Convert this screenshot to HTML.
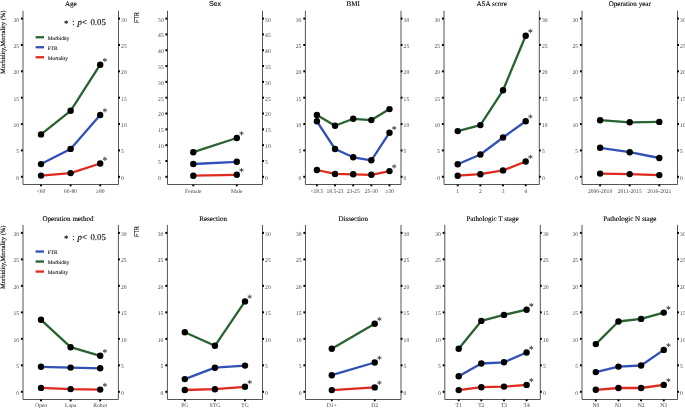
<!DOCTYPE html><html><head><meta charset="utf-8"><style>html,body{margin:0;padding:0;background:#fff;width:685px;height:408px;overflow:hidden}svg{display:block}</style></head><body>
<svg width="685" height="408" viewBox="0 0 685 408" text-rendering="geometricPrecision" style="will-change:transform">
<rect width="685" height="408" fill="#fff"/>
<path d="M23 10.7V184.5H118.5V10.7" fill="none" stroke="#555" stroke-width="1.0"/>
<rect x="20.9" y="175.8" width="1.9" height="2" fill="#000"/>
<rect x="118.2" y="175.8" width="1.8" height="2" fill="#000"/>
<text x="19" y="179.7" font-size="5.6" fill="#444" text-anchor="end" font-family='"Liberation Serif", serif'>0</text>
<text x="121.1" y="179.7" font-size="5.6" fill="#444" font-family='"Liberation Serif", serif'>0</text>
<rect x="20.9" y="149.43" width="1.9" height="2" fill="#000"/>
<rect x="118.2" y="149.43" width="1.8" height="2" fill="#000"/>
<text x="19" y="153.33" font-size="5.6" fill="#444" text-anchor="end" font-family='"Liberation Serif", serif'>5</text>
<text x="121.1" y="153.33" font-size="5.6" fill="#444" font-family='"Liberation Serif", serif'>5</text>
<rect x="20.9" y="123.07" width="1.9" height="2" fill="#000"/>
<rect x="118.2" y="123.07" width="1.8" height="2" fill="#000"/>
<text x="19" y="126.97" font-size="5.6" fill="#444" text-anchor="end" font-family='"Liberation Serif", serif'>10</text>
<text x="121.1" y="126.97" font-size="5.6" fill="#444" font-family='"Liberation Serif", serif'>10</text>
<rect x="20.9" y="96.7" width="1.9" height="2" fill="#000"/>
<rect x="118.2" y="96.7" width="1.8" height="2" fill="#000"/>
<text x="19" y="100.6" font-size="5.6" fill="#444" text-anchor="end" font-family='"Liberation Serif", serif'>15</text>
<text x="121.1" y="100.6" font-size="5.6" fill="#444" font-family='"Liberation Serif", serif'>15</text>
<rect x="20.9" y="70.33" width="1.9" height="2" fill="#000"/>
<rect x="118.2" y="70.33" width="1.8" height="2" fill="#000"/>
<text x="19" y="74.23" font-size="5.6" fill="#444" text-anchor="end" font-family='"Liberation Serif", serif'>20</text>
<text x="121.1" y="74.23" font-size="5.6" fill="#444" font-family='"Liberation Serif", serif'>20</text>
<rect x="20.9" y="43.97" width="1.9" height="2" fill="#000"/>
<rect x="118.2" y="43.97" width="1.8" height="2" fill="#000"/>
<text x="19" y="47.87" font-size="5.6" fill="#444" text-anchor="end" font-family='"Liberation Serif", serif'>25</text>
<text x="121.1" y="47.87" font-size="5.6" fill="#444" font-family='"Liberation Serif", serif'>25</text>
<rect x="20.9" y="17.6" width="1.9" height="2" fill="#000"/>
<rect x="118.2" y="17.6" width="1.8" height="2" fill="#000"/>
<text x="19" y="21.5" font-size="5.6" fill="#444" text-anchor="end" font-family='"Liberation Serif", serif'>30</text>
<text x="121.1" y="21.5" font-size="5.6" fill="#444" font-family='"Liberation Serif", serif'>30</text>
<rect x="40.05" y="184.5" width="1.9" height="1.8" fill="#000"/>
<text x="41" y="192.9" font-size="5.6" fill="#444" text-anchor="middle" font-family='"Liberation Serif", serif'>&lt;60</text>
<rect x="69.65" y="184.5" width="1.9" height="1.8" fill="#000"/>
<text x="70.6" y="192.9" font-size="5.6" fill="#444" text-anchor="middle" font-family='"Liberation Serif", serif'>60-80</text>
<rect x="99.25" y="184.5" width="1.9" height="1.8" fill="#000"/>
<text x="100.2" y="192.9" font-size="5.6" fill="#444" text-anchor="middle" font-family='"Liberation Serif", serif'>≥80</text>
<text x="70.75" y="6.4" font-size="7.05" fill="#000" stroke="#000" stroke-width="0.12" text-anchor="middle" font-family='"Liberation Serif", serif'>Age</text>
<polyline points="41,134.4 70.6,110.8 100.2,64.7" fill="none" stroke="#286330" stroke-width="2.3" stroke-linejoin="round"/>
<polyline points="41,164.1 70.6,148.9 100.2,115" fill="none" stroke="#3050b8" stroke-width="2.3" stroke-linejoin="round"/>
<polyline points="41,175.6 70.6,173.1 100.2,163.5" fill="none" stroke="#e12a1e" stroke-width="2.3" stroke-linejoin="round"/>
<circle cx="41" cy="134.4" r="3.2" fill="#000"/>
<circle cx="70.6" cy="110.8" r="3.2" fill="#000"/>
<circle cx="100.2" cy="64.7" r="3.2" fill="#000"/>
<circle cx="41" cy="164.1" r="3.2" fill="#000"/>
<circle cx="70.6" cy="148.9" r="3.2" fill="#000"/>
<circle cx="100.2" cy="115" r="3.2" fill="#000"/>
<circle cx="41" cy="175.6" r="3.2" fill="#000"/>
<circle cx="70.6" cy="173.1" r="3.2" fill="#000"/>
<circle cx="100.2" cy="163.5" r="3.2" fill="#000"/>
<path d="M104.90 58.25L104.90 61.75M103.28 59.34L106.52 60.66M106.52 59.34L103.28 60.66" stroke="#505050" stroke-width="0.9" stroke-linecap="round" fill="none"/>
<path d="M104.90 108.55L104.90 112.05M103.28 109.64L106.52 110.96M106.52 109.64L103.28 110.96" stroke="#505050" stroke-width="0.9" stroke-linecap="round" fill="none"/>
<path d="M104.90 157.05L104.90 160.55M103.28 158.14L106.52 159.46M106.52 158.14L103.28 159.46" stroke="#505050" stroke-width="0.9" stroke-linecap="round" fill="none"/>
<path d="M167.5 10.7V184.5H262.5V10.7" fill="none" stroke="#555" stroke-width="1.0"/>
<rect x="165.4" y="175.8" width="1.9" height="2" fill="#000"/>
<rect x="262.2" y="175.8" width="1.8" height="2" fill="#000"/>
<text x="158.1" y="179.7" font-size="5.6" fill="#444" font-family='"Liberation Serif", serif'>0</text>
<text x="265.1" y="179.7" font-size="5.6" fill="#444" font-family='"Liberation Serif", serif'>0</text>
<rect x="165.4" y="159.98" width="1.9" height="2" fill="#000"/>
<rect x="262.2" y="159.98" width="1.8" height="2" fill="#000"/>
<text x="158.1" y="163.88" font-size="5.6" fill="#444" font-family='"Liberation Serif", serif'>5</text>
<text x="265.1" y="163.88" font-size="5.6" fill="#444" font-family='"Liberation Serif", serif'>5</text>
<rect x="165.4" y="144.16" width="1.9" height="2" fill="#000"/>
<rect x="262.2" y="144.16" width="1.8" height="2" fill="#000"/>
<text x="158.1" y="148.06" font-size="5.6" fill="#444" font-family='"Liberation Serif", serif'>10</text>
<text x="265.1" y="148.06" font-size="5.6" fill="#444" font-family='"Liberation Serif", serif'>10</text>
<rect x="165.4" y="128.34" width="1.9" height="2" fill="#000"/>
<rect x="262.2" y="128.34" width="1.8" height="2" fill="#000"/>
<text x="158.1" y="132.24" font-size="5.6" fill="#444" font-family='"Liberation Serif", serif'>15</text>
<text x="265.1" y="132.24" font-size="5.6" fill="#444" font-family='"Liberation Serif", serif'>15</text>
<rect x="165.4" y="112.52" width="1.9" height="2" fill="#000"/>
<rect x="262.2" y="112.52" width="1.8" height="2" fill="#000"/>
<text x="158.1" y="116.42" font-size="5.6" fill="#444" font-family='"Liberation Serif", serif'>20</text>
<text x="265.1" y="116.42" font-size="5.6" fill="#444" font-family='"Liberation Serif", serif'>20</text>
<rect x="165.4" y="96.7" width="1.9" height="2" fill="#000"/>
<rect x="262.2" y="96.7" width="1.8" height="2" fill="#000"/>
<text x="158.1" y="100.6" font-size="5.6" fill="#444" font-family='"Liberation Serif", serif'>25</text>
<text x="265.1" y="100.6" font-size="5.6" fill="#444" font-family='"Liberation Serif", serif'>25</text>
<rect x="165.4" y="80.88" width="1.9" height="2" fill="#000"/>
<rect x="262.2" y="80.88" width="1.8" height="2" fill="#000"/>
<text x="158.1" y="84.78" font-size="5.6" fill="#444" font-family='"Liberation Serif", serif'>30</text>
<text x="265.1" y="84.78" font-size="5.6" fill="#444" font-family='"Liberation Serif", serif'>30</text>
<rect x="165.4" y="65.06" width="1.9" height="2" fill="#000"/>
<rect x="262.2" y="65.06" width="1.8" height="2" fill="#000"/>
<text x="158.1" y="68.96" font-size="5.6" fill="#444" font-family='"Liberation Serif", serif'>35</text>
<text x="265.1" y="68.96" font-size="5.6" fill="#444" font-family='"Liberation Serif", serif'>35</text>
<rect x="165.4" y="49.24" width="1.9" height="2" fill="#000"/>
<rect x="262.2" y="49.24" width="1.8" height="2" fill="#000"/>
<text x="158.1" y="53.14" font-size="5.6" fill="#444" font-family='"Liberation Serif", serif'>40</text>
<text x="265.1" y="53.14" font-size="5.6" fill="#444" font-family='"Liberation Serif", serif'>40</text>
<rect x="165.4" y="33.42" width="1.9" height="2" fill="#000"/>
<rect x="262.2" y="33.42" width="1.8" height="2" fill="#000"/>
<text x="158.1" y="37.32" font-size="5.6" fill="#444" font-family='"Liberation Serif", serif'>45</text>
<text x="265.1" y="37.32" font-size="5.6" fill="#444" font-family='"Liberation Serif", serif'>45</text>
<rect x="165.4" y="17.6" width="1.9" height="2" fill="#000"/>
<rect x="262.2" y="17.6" width="1.8" height="2" fill="#000"/>
<text x="158.1" y="21.5" font-size="5.6" fill="#444" font-family='"Liberation Serif", serif'>50</text>
<text x="265.1" y="21.5" font-size="5.6" fill="#444" font-family='"Liberation Serif", serif'>50</text>
<rect x="192.35" y="184.5" width="1.9" height="1.8" fill="#000"/>
<text x="193.3" y="192.9" font-size="5.6" fill="#444" text-anchor="middle" font-family='"Liberation Serif", serif'>Female</text>
<rect x="235.85" y="184.5" width="1.9" height="1.8" fill="#000"/>
<text x="236.8" y="192.9" font-size="5.6" fill="#444" text-anchor="middle" font-family='"Liberation Serif", serif'>Male</text>
<text x="215" y="6.4" font-size="7.05" fill="#000" stroke="#000" stroke-width="0.12" text-anchor="middle" font-family='"Liberation Sans", sans-serif'>Sex</text>
<polyline points="193.3,152.2 236.8,138" fill="none" stroke="#286330" stroke-width="2.3" stroke-linejoin="round"/>
<polyline points="193.3,164 236.8,161.8" fill="none" stroke="#3050b8" stroke-width="2.3" stroke-linejoin="round"/>
<polyline points="193.3,175.7 236.8,174.8" fill="none" stroke="#e12a1e" stroke-width="2.3" stroke-linejoin="round"/>
<circle cx="193.3" cy="152.2" r="3.2" fill="#000"/>
<circle cx="236.8" cy="138" r="3.2" fill="#000"/>
<circle cx="193.3" cy="164" r="3.2" fill="#000"/>
<circle cx="236.8" cy="161.8" r="3.2" fill="#000"/>
<circle cx="193.3" cy="175.7" r="3.2" fill="#000"/>
<circle cx="236.8" cy="174.8" r="3.2" fill="#000"/>
<path d="M241.50 131.55L241.50 135.05M239.88 132.64L243.12 133.96M243.12 132.64L239.88 133.96" stroke="#505050" stroke-width="0.9" stroke-linecap="round" fill="none"/>
<path d="M241.50 168.35L241.50 171.85M239.88 169.44L243.12 170.76M243.12 169.44L239.88 170.76" stroke="#505050" stroke-width="0.9" stroke-linecap="round" fill="none"/>
<path d="M305.4 10.7V184.5H401V10.7" fill="none" stroke="#555" stroke-width="1.0"/>
<rect x="303.3" y="175.8" width="1.9" height="2" fill="#000"/>
<rect x="400.7" y="175.8" width="1.8" height="2" fill="#000"/>
<text x="301.4" y="179.7" font-size="5.6" fill="#444" text-anchor="end" font-family='"Liberation Serif", serif'>0</text>
<text x="403.6" y="179.7" font-size="5.6" fill="#444" font-family='"Liberation Serif", serif'>0</text>
<rect x="303.3" y="149.43" width="1.9" height="2" fill="#000"/>
<rect x="400.7" y="149.43" width="1.8" height="2" fill="#000"/>
<text x="301.4" y="153.33" font-size="5.6" fill="#444" text-anchor="end" font-family='"Liberation Serif", serif'>5</text>
<text x="403.6" y="153.33" font-size="5.6" fill="#444" font-family='"Liberation Serif", serif'>5</text>
<rect x="303.3" y="123.07" width="1.9" height="2" fill="#000"/>
<rect x="400.7" y="123.07" width="1.8" height="2" fill="#000"/>
<text x="301.4" y="126.97" font-size="5.6" fill="#444" text-anchor="end" font-family='"Liberation Serif", serif'>10</text>
<text x="403.6" y="126.97" font-size="5.6" fill="#444" font-family='"Liberation Serif", serif'>10</text>
<rect x="303.3" y="96.7" width="1.9" height="2" fill="#000"/>
<rect x="400.7" y="96.7" width="1.8" height="2" fill="#000"/>
<text x="301.4" y="100.6" font-size="5.6" fill="#444" text-anchor="end" font-family='"Liberation Serif", serif'>15</text>
<text x="403.6" y="100.6" font-size="5.6" fill="#444" font-family='"Liberation Serif", serif'>15</text>
<rect x="303.3" y="70.33" width="1.9" height="2" fill="#000"/>
<rect x="400.7" y="70.33" width="1.8" height="2" fill="#000"/>
<text x="301.4" y="74.23" font-size="5.6" fill="#444" text-anchor="end" font-family='"Liberation Serif", serif'>20</text>
<text x="403.6" y="74.23" font-size="5.6" fill="#444" font-family='"Liberation Serif", serif'>20</text>
<rect x="303.3" y="43.97" width="1.9" height="2" fill="#000"/>
<rect x="400.7" y="43.97" width="1.8" height="2" fill="#000"/>
<text x="301.4" y="47.87" font-size="5.6" fill="#444" text-anchor="end" font-family='"Liberation Serif", serif'>25</text>
<text x="403.6" y="47.87" font-size="5.6" fill="#444" font-family='"Liberation Serif", serif'>25</text>
<rect x="303.3" y="17.6" width="1.9" height="2" fill="#000"/>
<rect x="400.7" y="17.6" width="1.8" height="2" fill="#000"/>
<text x="301.4" y="21.5" font-size="5.6" fill="#444" text-anchor="end" font-family='"Liberation Serif", serif'>30</text>
<text x="403.6" y="21.5" font-size="5.6" fill="#444" font-family='"Liberation Serif", serif'>30</text>
<rect x="315.95" y="184.5" width="1.9" height="1.8" fill="#000"/>
<text x="316.9" y="192.9" font-size="5.6" fill="#444" text-anchor="middle" font-family='"Liberation Serif", serif'>&lt;18.5</text>
<rect x="334.1" y="184.5" width="1.9" height="1.8" fill="#000"/>
<text x="335.05" y="192.9" font-size="5.6" fill="#444" text-anchor="middle" font-family='"Liberation Serif", serif'>18.5-23</text>
<rect x="352.25" y="184.5" width="1.9" height="1.8" fill="#000"/>
<text x="353.2" y="192.9" font-size="5.6" fill="#444" text-anchor="middle" font-family='"Liberation Serif", serif'>23-25</text>
<rect x="370.4" y="184.5" width="1.9" height="1.8" fill="#000"/>
<text x="371.35" y="192.9" font-size="5.6" fill="#444" text-anchor="middle" font-family='"Liberation Serif", serif'>25-30</text>
<rect x="388.55" y="184.5" width="1.9" height="1.8" fill="#000"/>
<text x="389.5" y="192.9" font-size="5.6" fill="#444" text-anchor="middle" font-family='"Liberation Serif", serif'>≥30</text>
<text x="353.2" y="6.4" font-size="7.05" fill="#000" stroke="#000" stroke-width="0.12" text-anchor="middle" font-family='"Liberation Serif", serif'>BMI</text>
<polyline points="316.9,115 335.05,125.8 353.2,118.8 371.35,120.1 389.5,109.1" fill="none" stroke="#286330" stroke-width="2.3" stroke-linejoin="round"/>
<polyline points="316.9,121.3 335.05,149 353.2,157.3 371.35,160.3 389.5,132.7" fill="none" stroke="#3050b8" stroke-width="2.3" stroke-linejoin="round"/>
<polyline points="316.9,170 335.05,173.9 353.2,174.3 371.35,174.8 389.5,171.1" fill="none" stroke="#e12a1e" stroke-width="2.3" stroke-linejoin="round"/>
<circle cx="316.9" cy="115" r="3.2" fill="#000"/>
<circle cx="335.05" cy="125.8" r="3.2" fill="#000"/>
<circle cx="353.2" cy="118.8" r="3.2" fill="#000"/>
<circle cx="371.35" cy="120.1" r="3.2" fill="#000"/>
<circle cx="389.5" cy="109.1" r="3.2" fill="#000"/>
<circle cx="316.9" cy="121.3" r="3.2" fill="#000"/>
<circle cx="335.05" cy="149" r="3.2" fill="#000"/>
<circle cx="353.2" cy="157.3" r="3.2" fill="#000"/>
<circle cx="371.35" cy="160.3" r="3.2" fill="#000"/>
<circle cx="389.5" cy="132.7" r="3.2" fill="#000"/>
<circle cx="316.9" cy="170" r="3.2" fill="#000"/>
<circle cx="335.05" cy="173.9" r="3.2" fill="#000"/>
<circle cx="353.2" cy="174.3" r="3.2" fill="#000"/>
<circle cx="371.35" cy="174.8" r="3.2" fill="#000"/>
<circle cx="389.5" cy="171.1" r="3.2" fill="#000"/>
<path d="M394.20 126.25L394.20 129.75M392.58 127.34L395.82 128.66M395.82 127.34L392.58 128.66" stroke="#505050" stroke-width="0.9" stroke-linecap="round" fill="none"/>
<path d="M394.20 164.65L394.20 168.15M392.58 165.74L395.82 167.06M395.82 165.74L392.58 167.06" stroke="#505050" stroke-width="0.9" stroke-linecap="round" fill="none"/>
<path d="M444 10.7V184.5H539.3V10.7" fill="none" stroke="#555" stroke-width="1.0"/>
<rect x="441.9" y="175.8" width="1.9" height="2" fill="#000"/>
<rect x="539" y="175.8" width="1.8" height="2" fill="#000"/>
<text x="440" y="179.7" font-size="5.6" fill="#444" text-anchor="end" font-family='"Liberation Serif", serif'>0</text>
<text x="541.9" y="179.7" font-size="5.6" fill="#444" font-family='"Liberation Serif", serif'>0</text>
<rect x="441.9" y="149.43" width="1.9" height="2" fill="#000"/>
<rect x="539" y="149.43" width="1.8" height="2" fill="#000"/>
<text x="440" y="153.33" font-size="5.6" fill="#444" text-anchor="end" font-family='"Liberation Serif", serif'>5</text>
<text x="541.9" y="153.33" font-size="5.6" fill="#444" font-family='"Liberation Serif", serif'>5</text>
<rect x="441.9" y="123.07" width="1.9" height="2" fill="#000"/>
<rect x="539" y="123.07" width="1.8" height="2" fill="#000"/>
<text x="440" y="126.97" font-size="5.6" fill="#444" text-anchor="end" font-family='"Liberation Serif", serif'>10</text>
<text x="541.9" y="126.97" font-size="5.6" fill="#444" font-family='"Liberation Serif", serif'>10</text>
<rect x="441.9" y="96.7" width="1.9" height="2" fill="#000"/>
<rect x="539" y="96.7" width="1.8" height="2" fill="#000"/>
<text x="440" y="100.6" font-size="5.6" fill="#444" text-anchor="end" font-family='"Liberation Serif", serif'>15</text>
<text x="541.9" y="100.6" font-size="5.6" fill="#444" font-family='"Liberation Serif", serif'>15</text>
<rect x="441.9" y="70.33" width="1.9" height="2" fill="#000"/>
<rect x="539" y="70.33" width="1.8" height="2" fill="#000"/>
<text x="440" y="74.23" font-size="5.6" fill="#444" text-anchor="end" font-family='"Liberation Serif", serif'>20</text>
<text x="541.9" y="74.23" font-size="5.6" fill="#444" font-family='"Liberation Serif", serif'>20</text>
<rect x="441.9" y="43.97" width="1.9" height="2" fill="#000"/>
<rect x="539" y="43.97" width="1.8" height="2" fill="#000"/>
<text x="440" y="47.87" font-size="5.6" fill="#444" text-anchor="end" font-family='"Liberation Serif", serif'>25</text>
<text x="541.9" y="47.87" font-size="5.6" fill="#444" font-family='"Liberation Serif", serif'>25</text>
<rect x="441.9" y="17.6" width="1.9" height="2" fill="#000"/>
<rect x="539" y="17.6" width="1.8" height="2" fill="#000"/>
<text x="440" y="21.5" font-size="5.6" fill="#444" text-anchor="end" font-family='"Liberation Serif", serif'>30</text>
<text x="541.9" y="21.5" font-size="5.6" fill="#444" font-family='"Liberation Serif", serif'>30</text>
<rect x="456.75" y="184.5" width="1.9" height="1.8" fill="#000"/>
<text x="457.7" y="192.9" font-size="5.6" fill="#444" text-anchor="middle" font-family='"Liberation Serif", serif'>1</text>
<rect x="479.42" y="184.5" width="1.9" height="1.8" fill="#000"/>
<text x="480.37" y="192.9" font-size="5.6" fill="#444" text-anchor="middle" font-family='"Liberation Serif", serif'>2</text>
<rect x="502.08" y="184.5" width="1.9" height="1.8" fill="#000"/>
<text x="503.03" y="192.9" font-size="5.6" fill="#444" text-anchor="middle" font-family='"Liberation Serif", serif'>3</text>
<rect x="524.75" y="184.5" width="1.9" height="1.8" fill="#000"/>
<text x="525.7" y="192.9" font-size="5.6" fill="#444" text-anchor="middle" font-family='"Liberation Serif", serif'>4</text>
<text x="491.65" y="6.4" font-size="7.05" fill="#000" stroke="#000" stroke-width="0.12" text-anchor="middle" font-family='"Liberation Serif", serif'>ASA score</text>
<polyline points="457.7,131.1 480.37,125.1 503.03,90.3 525.7,35.7" fill="none" stroke="#286330" stroke-width="2.3" stroke-linejoin="round"/>
<polyline points="457.7,164.2 480.37,154.5 503.03,137.5 525.7,121.2" fill="none" stroke="#3050b8" stroke-width="2.3" stroke-linejoin="round"/>
<polyline points="457.7,175.7 480.37,174.2 503.03,170.4 525.7,161.5" fill="none" stroke="#e12a1e" stroke-width="2.3" stroke-linejoin="round"/>
<circle cx="457.7" cy="131.1" r="3.2" fill="#000"/>
<circle cx="480.37" cy="125.1" r="3.2" fill="#000"/>
<circle cx="503.03" cy="90.3" r="3.2" fill="#000"/>
<circle cx="525.7" cy="35.7" r="3.2" fill="#000"/>
<circle cx="457.7" cy="164.2" r="3.2" fill="#000"/>
<circle cx="480.37" cy="154.5" r="3.2" fill="#000"/>
<circle cx="503.03" cy="137.5" r="3.2" fill="#000"/>
<circle cx="525.7" cy="121.2" r="3.2" fill="#000"/>
<circle cx="457.7" cy="175.7" r="3.2" fill="#000"/>
<circle cx="480.37" cy="174.2" r="3.2" fill="#000"/>
<circle cx="503.03" cy="170.4" r="3.2" fill="#000"/>
<circle cx="525.7" cy="161.5" r="3.2" fill="#000"/>
<path d="M530.40 29.25L530.40 32.75M528.78 30.34L532.02 31.66M532.02 30.34L528.78 31.66" stroke="#505050" stroke-width="0.9" stroke-linecap="round" fill="none"/>
<path d="M530.40 114.75L530.40 118.25M528.78 115.84L532.02 117.16M532.02 115.84L528.78 117.16" stroke="#505050" stroke-width="0.9" stroke-linecap="round" fill="none"/>
<path d="M530.40 155.05L530.40 158.55M528.78 156.14L532.02 157.46M532.02 156.14L528.78 157.46" stroke="#505050" stroke-width="0.9" stroke-linecap="round" fill="none"/>
<path d="M582 10.7V184.5H677.5V10.7" fill="none" stroke="#555" stroke-width="1.0"/>
<rect x="579.9" y="175.8" width="1.9" height="2" fill="#000"/>
<rect x="677.2" y="175.8" width="1.8" height="2" fill="#000"/>
<text x="578" y="179.7" font-size="5.6" fill="#444" text-anchor="end" font-family='"Liberation Serif", serif'>0</text>
<text x="680.1" y="179.7" font-size="5.6" fill="#444" font-family='"Liberation Serif", serif'>0</text>
<rect x="579.9" y="149.43" width="1.9" height="2" fill="#000"/>
<rect x="677.2" y="149.43" width="1.8" height="2" fill="#000"/>
<text x="578" y="153.33" font-size="5.6" fill="#444" text-anchor="end" font-family='"Liberation Serif", serif'>5</text>
<text x="680.1" y="153.33" font-size="5.6" fill="#444" font-family='"Liberation Serif", serif'>5</text>
<rect x="579.9" y="123.07" width="1.9" height="2" fill="#000"/>
<rect x="677.2" y="123.07" width="1.8" height="2" fill="#000"/>
<text x="578" y="126.97" font-size="5.6" fill="#444" text-anchor="end" font-family='"Liberation Serif", serif'>10</text>
<text x="680.1" y="126.97" font-size="5.6" fill="#444" font-family='"Liberation Serif", serif'>10</text>
<rect x="579.9" y="96.7" width="1.9" height="2" fill="#000"/>
<rect x="677.2" y="96.7" width="1.8" height="2" fill="#000"/>
<text x="578" y="100.6" font-size="5.6" fill="#444" text-anchor="end" font-family='"Liberation Serif", serif'>15</text>
<text x="680.1" y="100.6" font-size="5.6" fill="#444" font-family='"Liberation Serif", serif'>15</text>
<rect x="579.9" y="70.33" width="1.9" height="2" fill="#000"/>
<rect x="677.2" y="70.33" width="1.8" height="2" fill="#000"/>
<text x="578" y="74.23" font-size="5.6" fill="#444" text-anchor="end" font-family='"Liberation Serif", serif'>20</text>
<text x="680.1" y="74.23" font-size="5.6" fill="#444" font-family='"Liberation Serif", serif'>20</text>
<rect x="579.9" y="43.97" width="1.9" height="2" fill="#000"/>
<rect x="677.2" y="43.97" width="1.8" height="2" fill="#000"/>
<text x="578" y="47.87" font-size="5.6" fill="#444" text-anchor="end" font-family='"Liberation Serif", serif'>25</text>
<text x="680.1" y="47.87" font-size="5.6" fill="#444" font-family='"Liberation Serif", serif'>25</text>
<rect x="579.9" y="17.6" width="1.9" height="2" fill="#000"/>
<rect x="677.2" y="17.6" width="1.8" height="2" fill="#000"/>
<text x="578" y="21.5" font-size="5.6" fill="#444" text-anchor="end" font-family='"Liberation Serif", serif'>30</text>
<text x="680.1" y="21.5" font-size="5.6" fill="#444" font-family='"Liberation Serif", serif'>30</text>
<rect x="599.15" y="184.5" width="1.9" height="1.8" fill="#000"/>
<text x="600.1" y="192.9" font-size="5.6" fill="#444" text-anchor="middle" font-family='"Liberation Serif", serif'>2006-2010</text>
<rect x="628.75" y="184.5" width="1.9" height="1.8" fill="#000"/>
<text x="629.7" y="192.9" font-size="5.6" fill="#444" text-anchor="middle" font-family='"Liberation Serif", serif'>2011-2015</text>
<rect x="658.35" y="184.5" width="1.9" height="1.8" fill="#000"/>
<text x="659.3" y="192.9" font-size="5.6" fill="#444" text-anchor="middle" font-family='"Liberation Serif", serif'>2016-2021</text>
<text x="629.75" y="6.4" font-size="7.05" fill="#000" stroke="#000" stroke-width="0.12" text-anchor="middle" font-family='"Liberation Serif", serif'>Operation year</text>
<polyline points="600.1,120.2 629.7,122.3 659.3,121.9" fill="none" stroke="#286330" stroke-width="2.3" stroke-linejoin="round"/>
<polyline points="600.1,147.8 629.7,152.2 659.3,158" fill="none" stroke="#3050b8" stroke-width="2.3" stroke-linejoin="round"/>
<polyline points="600.1,173.6 629.7,174.1 659.3,175.1" fill="none" stroke="#e12a1e" stroke-width="2.3" stroke-linejoin="round"/>
<circle cx="600.1" cy="120.2" r="3.2" fill="#000"/>
<circle cx="629.7" cy="122.3" r="3.2" fill="#000"/>
<circle cx="659.3" cy="121.9" r="3.2" fill="#000"/>
<circle cx="600.1" cy="147.8" r="3.2" fill="#000"/>
<circle cx="629.7" cy="152.2" r="3.2" fill="#000"/>
<circle cx="659.3" cy="158" r="3.2" fill="#000"/>
<circle cx="600.1" cy="173.6" r="3.2" fill="#000"/>
<circle cx="629.7" cy="174.1" r="3.2" fill="#000"/>
<circle cx="659.3" cy="175.1" r="3.2" fill="#000"/>
<path d="M23 224.9V399.5H118.4V224.9" fill="none" stroke="#555" stroke-width="1.0"/>
<rect x="20.9" y="390.8" width="1.9" height="2" fill="#000"/>
<rect x="118.1" y="390.8" width="1.8" height="2" fill="#000"/>
<text x="19" y="394.7" font-size="5.6" fill="#444" text-anchor="end" font-family='"Liberation Serif", serif'>0</text>
<text x="121" y="394.7" font-size="5.6" fill="#444" font-family='"Liberation Serif", serif'>0</text>
<rect x="20.9" y="364.32" width="1.9" height="2" fill="#000"/>
<rect x="118.1" y="364.32" width="1.8" height="2" fill="#000"/>
<text x="19" y="368.22" font-size="5.6" fill="#444" text-anchor="end" font-family='"Liberation Serif", serif'>5</text>
<text x="121" y="368.22" font-size="5.6" fill="#444" font-family='"Liberation Serif", serif'>5</text>
<rect x="20.9" y="337.83" width="1.9" height="2" fill="#000"/>
<rect x="118.1" y="337.83" width="1.8" height="2" fill="#000"/>
<text x="19" y="341.73" font-size="5.6" fill="#444" text-anchor="end" font-family='"Liberation Serif", serif'>10</text>
<text x="121" y="341.73" font-size="5.6" fill="#444" font-family='"Liberation Serif", serif'>10</text>
<rect x="20.9" y="311.35" width="1.9" height="2" fill="#000"/>
<rect x="118.1" y="311.35" width="1.8" height="2" fill="#000"/>
<text x="19" y="315.25" font-size="5.6" fill="#444" text-anchor="end" font-family='"Liberation Serif", serif'>15</text>
<text x="121" y="315.25" font-size="5.6" fill="#444" font-family='"Liberation Serif", serif'>15</text>
<rect x="20.9" y="284.87" width="1.9" height="2" fill="#000"/>
<rect x="118.1" y="284.87" width="1.8" height="2" fill="#000"/>
<text x="19" y="288.77" font-size="5.6" fill="#444" text-anchor="end" font-family='"Liberation Serif", serif'>20</text>
<text x="121" y="288.77" font-size="5.6" fill="#444" font-family='"Liberation Serif", serif'>20</text>
<rect x="20.9" y="258.38" width="1.9" height="2" fill="#000"/>
<rect x="118.1" y="258.38" width="1.8" height="2" fill="#000"/>
<text x="19" y="262.28" font-size="5.6" fill="#444" text-anchor="end" font-family='"Liberation Serif", serif'>25</text>
<text x="121" y="262.28" font-size="5.6" fill="#444" font-family='"Liberation Serif", serif'>25</text>
<rect x="20.9" y="231.9" width="1.9" height="2" fill="#000"/>
<rect x="118.1" y="231.9" width="1.8" height="2" fill="#000"/>
<text x="19" y="235.8" font-size="5.6" fill="#444" text-anchor="end" font-family='"Liberation Serif", serif'>30</text>
<text x="121" y="235.8" font-size="5.6" fill="#444" font-family='"Liberation Serif", serif'>30</text>
<rect x="40.05" y="399.5" width="1.9" height="1.8" fill="#000"/>
<text x="41" y="407.3" font-size="5.6" fill="#444" text-anchor="middle" font-family='"Liberation Serif", serif'>Open</text>
<rect x="69.65" y="399.5" width="1.9" height="1.8" fill="#000"/>
<text x="70.6" y="407.3" font-size="5.6" fill="#444" text-anchor="middle" font-family='"Liberation Serif", serif'>Lapa</text>
<rect x="99.25" y="399.5" width="1.9" height="1.8" fill="#000"/>
<text x="100.2" y="407.3" font-size="5.6" fill="#444" text-anchor="middle" font-family='"Liberation Serif", serif'>Robot</text>
<text x="68" y="220.8" font-size="7.05" fill="#000" stroke="#000" stroke-width="0.12" text-anchor="middle" font-family='"Liberation Serif", serif'>Operation method</text>
<polyline points="41,319.8 70.6,347.2 100.2,355.8" fill="none" stroke="#286330" stroke-width="2.3" stroke-linejoin="round"/>
<polyline points="41,366.8 70.6,367.6 100.2,368.3" fill="none" stroke="#3050b8" stroke-width="2.3" stroke-linejoin="round"/>
<polyline points="41,387.9 70.6,389.1 100.2,389.6" fill="none" stroke="#e12a1e" stroke-width="2.3" stroke-linejoin="round"/>
<circle cx="41" cy="319.8" r="3.2" fill="#000"/>
<circle cx="70.6" cy="347.2" r="3.2" fill="#000"/>
<circle cx="100.2" cy="355.8" r="3.2" fill="#000"/>
<circle cx="41" cy="366.8" r="3.2" fill="#000"/>
<circle cx="70.6" cy="367.6" r="3.2" fill="#000"/>
<circle cx="100.2" cy="368.3" r="3.2" fill="#000"/>
<circle cx="41" cy="387.9" r="3.2" fill="#000"/>
<circle cx="70.6" cy="389.1" r="3.2" fill="#000"/>
<circle cx="100.2" cy="389.6" r="3.2" fill="#000"/>
<path d="M104.90 349.35L104.90 352.85M103.28 350.44L106.52 351.76M106.52 350.44L103.28 351.76" stroke="#505050" stroke-width="0.9" stroke-linecap="round" fill="none"/>
<path d="M104.90 383.15L104.90 386.65M103.28 384.24L106.52 385.56M106.52 384.24L103.28 385.56" stroke="#505050" stroke-width="0.9" stroke-linecap="round" fill="none"/>
<path d="M167.4 224.9V399.5H262.5V224.9" fill="none" stroke="#555" stroke-width="1.0"/>
<rect x="165.3" y="390.8" width="1.9" height="2" fill="#000"/>
<rect x="262.2" y="390.8" width="1.8" height="2" fill="#000"/>
<text x="163.4" y="394.7" font-size="5.6" fill="#444" text-anchor="end" font-family='"Liberation Serif", serif'>0</text>
<text x="265.1" y="394.7" font-size="5.6" fill="#444" font-family='"Liberation Serif", serif'>0</text>
<rect x="165.3" y="364.32" width="1.9" height="2" fill="#000"/>
<rect x="262.2" y="364.32" width="1.8" height="2" fill="#000"/>
<text x="163.4" y="368.22" font-size="5.6" fill="#444" text-anchor="end" font-family='"Liberation Serif", serif'>5</text>
<text x="265.1" y="368.22" font-size="5.6" fill="#444" font-family='"Liberation Serif", serif'>5</text>
<rect x="165.3" y="337.83" width="1.9" height="2" fill="#000"/>
<rect x="262.2" y="337.83" width="1.8" height="2" fill="#000"/>
<text x="163.4" y="341.73" font-size="5.6" fill="#444" text-anchor="end" font-family='"Liberation Serif", serif'>10</text>
<text x="265.1" y="341.73" font-size="5.6" fill="#444" font-family='"Liberation Serif", serif'>10</text>
<rect x="165.3" y="311.35" width="1.9" height="2" fill="#000"/>
<rect x="262.2" y="311.35" width="1.8" height="2" fill="#000"/>
<text x="163.4" y="315.25" font-size="5.6" fill="#444" text-anchor="end" font-family='"Liberation Serif", serif'>15</text>
<text x="265.1" y="315.25" font-size="5.6" fill="#444" font-family='"Liberation Serif", serif'>15</text>
<rect x="165.3" y="284.87" width="1.9" height="2" fill="#000"/>
<rect x="262.2" y="284.87" width="1.8" height="2" fill="#000"/>
<text x="163.4" y="288.77" font-size="5.6" fill="#444" text-anchor="end" font-family='"Liberation Serif", serif'>20</text>
<text x="265.1" y="288.77" font-size="5.6" fill="#444" font-family='"Liberation Serif", serif'>20</text>
<rect x="165.3" y="258.38" width="1.9" height="2" fill="#000"/>
<rect x="262.2" y="258.38" width="1.8" height="2" fill="#000"/>
<text x="163.4" y="262.28" font-size="5.6" fill="#444" text-anchor="end" font-family='"Liberation Serif", serif'>25</text>
<text x="265.1" y="262.28" font-size="5.6" fill="#444" font-family='"Liberation Serif", serif'>25</text>
<rect x="165.3" y="231.9" width="1.9" height="2" fill="#000"/>
<rect x="262.2" y="231.9" width="1.8" height="2" fill="#000"/>
<text x="163.4" y="235.8" font-size="5.6" fill="#444" text-anchor="end" font-family='"Liberation Serif", serif'>30</text>
<text x="265.1" y="235.8" font-size="5.6" fill="#444" font-family='"Liberation Serif", serif'>30</text>
<rect x="183.85" y="399.5" width="1.9" height="1.8" fill="#000"/>
<text x="184.8" y="407.3" font-size="5.6" fill="#444" text-anchor="middle" font-family='"Liberation Serif", serif'>PG</text>
<rect x="213.95" y="399.5" width="1.9" height="1.8" fill="#000"/>
<text x="214.9" y="407.3" font-size="5.6" fill="#444" text-anchor="middle" font-family='"Liberation Serif", serif'>STG</text>
<rect x="244.05" y="399.5" width="1.9" height="1.8" fill="#000"/>
<text x="245" y="407.3" font-size="5.6" fill="#444" text-anchor="middle" font-family='"Liberation Serif", serif'>TG</text>
<text x="213.1" y="220.8" font-size="7.05" fill="#000" stroke="#000" stroke-width="0.12" text-anchor="middle" font-family='"Liberation Serif", serif'>Resection</text>
<polyline points="184.8,332.3 214.9,345.8 245,301.4" fill="none" stroke="#286330" stroke-width="2.3" stroke-linejoin="round"/>
<polyline points="184.8,379.1 214.9,367.7 245,365.6" fill="none" stroke="#3050b8" stroke-width="2.3" stroke-linejoin="round"/>
<polyline points="184.8,390 214.9,389.2 245,386.8" fill="none" stroke="#e12a1e" stroke-width="2.3" stroke-linejoin="round"/>
<circle cx="184.8" cy="332.3" r="3.2" fill="#000"/>
<circle cx="214.9" cy="345.8" r="3.2" fill="#000"/>
<circle cx="245" cy="301.4" r="3.2" fill="#000"/>
<circle cx="184.8" cy="379.1" r="3.2" fill="#000"/>
<circle cx="214.9" cy="367.7" r="3.2" fill="#000"/>
<circle cx="245" cy="365.6" r="3.2" fill="#000"/>
<circle cx="184.8" cy="390" r="3.2" fill="#000"/>
<circle cx="214.9" cy="389.2" r="3.2" fill="#000"/>
<circle cx="245" cy="386.8" r="3.2" fill="#000"/>
<path d="M249.70 294.95L249.70 298.45M248.08 296.04L251.32 297.36M251.32 296.04L248.08 297.36" stroke="#505050" stroke-width="0.9" stroke-linecap="round" fill="none"/>
<path d="M249.70 380.35L249.70 383.85M248.08 381.44L251.32 382.76M251.32 381.44L248.08 382.76" stroke="#505050" stroke-width="0.9" stroke-linecap="round" fill="none"/>
<path d="M305.5 224.9V399.5H401V224.9" fill="none" stroke="#555" stroke-width="1.0"/>
<rect x="303.4" y="390.8" width="1.9" height="2" fill="#000"/>
<rect x="400.7" y="390.8" width="1.8" height="2" fill="#000"/>
<text x="301.5" y="394.7" font-size="5.6" fill="#444" text-anchor="end" font-family='"Liberation Serif", serif'>0</text>
<text x="403.6" y="394.7" font-size="5.6" fill="#444" font-family='"Liberation Serif", serif'>0</text>
<rect x="303.4" y="364.32" width="1.9" height="2" fill="#000"/>
<rect x="400.7" y="364.32" width="1.8" height="2" fill="#000"/>
<text x="301.5" y="368.22" font-size="5.6" fill="#444" text-anchor="end" font-family='"Liberation Serif", serif'>5</text>
<text x="403.6" y="368.22" font-size="5.6" fill="#444" font-family='"Liberation Serif", serif'>5</text>
<rect x="303.4" y="337.83" width="1.9" height="2" fill="#000"/>
<rect x="400.7" y="337.83" width="1.8" height="2" fill="#000"/>
<text x="301.5" y="341.73" font-size="5.6" fill="#444" text-anchor="end" font-family='"Liberation Serif", serif'>10</text>
<text x="403.6" y="341.73" font-size="5.6" fill="#444" font-family='"Liberation Serif", serif'>10</text>
<rect x="303.4" y="311.35" width="1.9" height="2" fill="#000"/>
<rect x="400.7" y="311.35" width="1.8" height="2" fill="#000"/>
<text x="301.5" y="315.25" font-size="5.6" fill="#444" text-anchor="end" font-family='"Liberation Serif", serif'>15</text>
<text x="403.6" y="315.25" font-size="5.6" fill="#444" font-family='"Liberation Serif", serif'>15</text>
<rect x="303.4" y="284.87" width="1.9" height="2" fill="#000"/>
<rect x="400.7" y="284.87" width="1.8" height="2" fill="#000"/>
<text x="301.5" y="288.77" font-size="5.6" fill="#444" text-anchor="end" font-family='"Liberation Serif", serif'>20</text>
<text x="403.6" y="288.77" font-size="5.6" fill="#444" font-family='"Liberation Serif", serif'>20</text>
<rect x="303.4" y="258.38" width="1.9" height="2" fill="#000"/>
<rect x="400.7" y="258.38" width="1.8" height="2" fill="#000"/>
<text x="301.5" y="262.28" font-size="5.6" fill="#444" text-anchor="end" font-family='"Liberation Serif", serif'>25</text>
<text x="403.6" y="262.28" font-size="5.6" fill="#444" font-family='"Liberation Serif", serif'>25</text>
<rect x="303.4" y="231.9" width="1.9" height="2" fill="#000"/>
<rect x="400.7" y="231.9" width="1.8" height="2" fill="#000"/>
<text x="301.5" y="235.8" font-size="5.6" fill="#444" text-anchor="end" font-family='"Liberation Serif", serif'>30</text>
<text x="403.6" y="235.8" font-size="5.6" fill="#444" font-family='"Liberation Serif", serif'>30</text>
<rect x="330.85" y="399.5" width="1.9" height="1.8" fill="#000"/>
<text x="331.8" y="407.3" font-size="5.6" fill="#444" text-anchor="middle" font-family='"Liberation Serif", serif'>D1+</text>
<rect x="373.75" y="399.5" width="1.9" height="1.8" fill="#000"/>
<text x="374.7" y="407.3" font-size="5.6" fill="#444" text-anchor="middle" font-family='"Liberation Serif", serif'>D2</text>
<text x="353.25" y="220.8" font-size="7.05" fill="#000" stroke="#000" stroke-width="0.12" text-anchor="middle" font-family='"Liberation Serif", serif'>Dissection</text>
<polyline points="331.8,348.7 374.7,323.8" fill="none" stroke="#286330" stroke-width="2.3" stroke-linejoin="round"/>
<polyline points="331.8,375.2 374.7,362.5" fill="none" stroke="#3050b8" stroke-width="2.3" stroke-linejoin="round"/>
<polyline points="331.8,390.1 374.7,387.4" fill="none" stroke="#e12a1e" stroke-width="2.3" stroke-linejoin="round"/>
<circle cx="331.8" cy="348.7" r="3.2" fill="#000"/>
<circle cx="374.7" cy="323.8" r="3.2" fill="#000"/>
<circle cx="331.8" cy="375.2" r="3.2" fill="#000"/>
<circle cx="374.7" cy="362.5" r="3.2" fill="#000"/>
<circle cx="331.8" cy="390.1" r="3.2" fill="#000"/>
<circle cx="374.7" cy="387.4" r="3.2" fill="#000"/>
<path d="M379.40 317.35L379.40 320.85M377.78 318.44L381.02 319.76M381.02 318.44L377.78 319.76" stroke="#505050" stroke-width="0.9" stroke-linecap="round" fill="none"/>
<path d="M379.40 356.05L379.40 359.55M377.78 357.14L381.02 358.46M381.02 357.14L377.78 358.46" stroke="#505050" stroke-width="0.9" stroke-linecap="round" fill="none"/>
<path d="M379.40 380.95L379.40 384.45M377.78 382.04L381.02 383.36M381.02 382.04L377.78 383.36" stroke="#505050" stroke-width="0.9" stroke-linecap="round" fill="none"/>
<path d="M444.8 224.9V399.5H540.3V224.9" fill="none" stroke="#555" stroke-width="1.0"/>
<rect x="442.7" y="390.8" width="1.9" height="2" fill="#000"/>
<rect x="540" y="390.8" width="1.8" height="2" fill="#000"/>
<text x="440.8" y="394.7" font-size="5.6" fill="#444" text-anchor="end" font-family='"Liberation Serif", serif'>0</text>
<text x="542.9" y="394.7" font-size="5.6" fill="#444" font-family='"Liberation Serif", serif'>0</text>
<rect x="442.7" y="364.32" width="1.9" height="2" fill="#000"/>
<rect x="540" y="364.32" width="1.8" height="2" fill="#000"/>
<text x="440.8" y="368.22" font-size="5.6" fill="#444" text-anchor="end" font-family='"Liberation Serif", serif'>5</text>
<text x="542.9" y="368.22" font-size="5.6" fill="#444" font-family='"Liberation Serif", serif'>5</text>
<rect x="442.7" y="337.83" width="1.9" height="2" fill="#000"/>
<rect x="540" y="337.83" width="1.8" height="2" fill="#000"/>
<text x="440.8" y="341.73" font-size="5.6" fill="#444" text-anchor="end" font-family='"Liberation Serif", serif'>10</text>
<text x="542.9" y="341.73" font-size="5.6" fill="#444" font-family='"Liberation Serif", serif'>10</text>
<rect x="442.7" y="311.35" width="1.9" height="2" fill="#000"/>
<rect x="540" y="311.35" width="1.8" height="2" fill="#000"/>
<text x="440.8" y="315.25" font-size="5.6" fill="#444" text-anchor="end" font-family='"Liberation Serif", serif'>15</text>
<text x="542.9" y="315.25" font-size="5.6" fill="#444" font-family='"Liberation Serif", serif'>15</text>
<rect x="442.7" y="284.87" width="1.9" height="2" fill="#000"/>
<rect x="540" y="284.87" width="1.8" height="2" fill="#000"/>
<text x="440.8" y="288.77" font-size="5.6" fill="#444" text-anchor="end" font-family='"Liberation Serif", serif'>20</text>
<text x="542.9" y="288.77" font-size="5.6" fill="#444" font-family='"Liberation Serif", serif'>20</text>
<rect x="442.7" y="258.38" width="1.9" height="2" fill="#000"/>
<rect x="540" y="258.38" width="1.8" height="2" fill="#000"/>
<text x="440.8" y="262.28" font-size="5.6" fill="#444" text-anchor="end" font-family='"Liberation Serif", serif'>25</text>
<text x="542.9" y="262.28" font-size="5.6" fill="#444" font-family='"Liberation Serif", serif'>25</text>
<rect x="442.7" y="231.9" width="1.9" height="2" fill="#000"/>
<rect x="540" y="231.9" width="1.8" height="2" fill="#000"/>
<text x="440.8" y="235.8" font-size="5.6" fill="#444" text-anchor="end" font-family='"Liberation Serif", serif'>30</text>
<text x="542.9" y="235.8" font-size="5.6" fill="#444" font-family='"Liberation Serif", serif'>30</text>
<rect x="457.75" y="399.5" width="1.9" height="1.8" fill="#000"/>
<text x="458.7" y="407.3" font-size="5.6" fill="#444" text-anchor="middle" font-family='"Liberation Serif", serif'>T1</text>
<rect x="480.35" y="399.5" width="1.9" height="1.8" fill="#000"/>
<text x="481.3" y="407.3" font-size="5.6" fill="#444" text-anchor="middle" font-family='"Liberation Serif", serif'>T2</text>
<rect x="503.05" y="399.5" width="1.9" height="1.8" fill="#000"/>
<text x="504" y="407.3" font-size="5.6" fill="#444" text-anchor="middle" font-family='"Liberation Serif", serif'>T3</text>
<rect x="525.65" y="399.5" width="1.9" height="1.8" fill="#000"/>
<text x="526.6" y="407.3" font-size="5.6" fill="#444" text-anchor="middle" font-family='"Liberation Serif", serif'>T4</text>
<text x="492.55" y="220.8" font-size="7.05" fill="#000" stroke="#000" stroke-width="0.12" text-anchor="middle" font-family='"Liberation Serif", serif'>Pathologic T stage</text>
<polyline points="458.7,348.7 481.3,320.9 504,314.9 526.6,309.7" fill="none" stroke="#286330" stroke-width="2.3" stroke-linejoin="round"/>
<polyline points="458.7,376.2 481.3,363.5 504,362.3 526.6,352.5" fill="none" stroke="#3050b8" stroke-width="2.3" stroke-linejoin="round"/>
<polyline points="458.7,390.1 481.3,387.2 504,386.6 526.6,384.9" fill="none" stroke="#e12a1e" stroke-width="2.3" stroke-linejoin="round"/>
<circle cx="458.7" cy="348.7" r="3.2" fill="#000"/>
<circle cx="481.3" cy="320.9" r="3.2" fill="#000"/>
<circle cx="504" cy="314.9" r="3.2" fill="#000"/>
<circle cx="526.6" cy="309.7" r="3.2" fill="#000"/>
<circle cx="458.7" cy="376.2" r="3.2" fill="#000"/>
<circle cx="481.3" cy="363.5" r="3.2" fill="#000"/>
<circle cx="504" cy="362.3" r="3.2" fill="#000"/>
<circle cx="526.6" cy="352.5" r="3.2" fill="#000"/>
<circle cx="458.7" cy="390.1" r="3.2" fill="#000"/>
<circle cx="481.3" cy="387.2" r="3.2" fill="#000"/>
<circle cx="504" cy="386.6" r="3.2" fill="#000"/>
<circle cx="526.6" cy="384.9" r="3.2" fill="#000"/>
<path d="M531.30 303.25L531.30 306.75M529.68 304.34L532.92 305.66M532.92 304.34L529.68 305.66" stroke="#505050" stroke-width="0.9" stroke-linecap="round" fill="none"/>
<path d="M531.30 346.05L531.30 349.55M529.68 347.14L532.92 348.46M532.92 347.14L529.68 348.46" stroke="#505050" stroke-width="0.9" stroke-linecap="round" fill="none"/>
<path d="M531.30 378.45L531.30 381.95M529.68 379.54L532.92 380.86M532.92 379.54L529.68 380.86" stroke="#505050" stroke-width="0.9" stroke-linecap="round" fill="none"/>
<path d="M582 224.9V399.5H677.5V224.9" fill="none" stroke="#555" stroke-width="1.0"/>
<rect x="579.9" y="390.8" width="1.9" height="2" fill="#000"/>
<rect x="677.2" y="390.8" width="1.8" height="2" fill="#000"/>
<text x="578" y="394.7" font-size="5.6" fill="#444" text-anchor="end" font-family='"Liberation Serif", serif'>0</text>
<text x="680.1" y="394.7" font-size="5.6" fill="#444" font-family='"Liberation Serif", serif'>0</text>
<rect x="579.9" y="364.32" width="1.9" height="2" fill="#000"/>
<rect x="677.2" y="364.32" width="1.8" height="2" fill="#000"/>
<text x="578" y="368.22" font-size="5.6" fill="#444" text-anchor="end" font-family='"Liberation Serif", serif'>5</text>
<text x="680.1" y="368.22" font-size="5.6" fill="#444" font-family='"Liberation Serif", serif'>5</text>
<rect x="579.9" y="337.83" width="1.9" height="2" fill="#000"/>
<rect x="677.2" y="337.83" width="1.8" height="2" fill="#000"/>
<text x="578" y="341.73" font-size="5.6" fill="#444" text-anchor="end" font-family='"Liberation Serif", serif'>10</text>
<text x="680.1" y="341.73" font-size="5.6" fill="#444" font-family='"Liberation Serif", serif'>10</text>
<rect x="579.9" y="311.35" width="1.9" height="2" fill="#000"/>
<rect x="677.2" y="311.35" width="1.8" height="2" fill="#000"/>
<text x="578" y="315.25" font-size="5.6" fill="#444" text-anchor="end" font-family='"Liberation Serif", serif'>15</text>
<text x="680.1" y="315.25" font-size="5.6" fill="#444" font-family='"Liberation Serif", serif'>15</text>
<rect x="579.9" y="284.87" width="1.9" height="2" fill="#000"/>
<rect x="677.2" y="284.87" width="1.8" height="2" fill="#000"/>
<text x="578" y="288.77" font-size="5.6" fill="#444" text-anchor="end" font-family='"Liberation Serif", serif'>20</text>
<text x="680.1" y="288.77" font-size="5.6" fill="#444" font-family='"Liberation Serif", serif'>20</text>
<rect x="579.9" y="258.38" width="1.9" height="2" fill="#000"/>
<rect x="677.2" y="258.38" width="1.8" height="2" fill="#000"/>
<text x="578" y="262.28" font-size="5.6" fill="#444" text-anchor="end" font-family='"Liberation Serif", serif'>25</text>
<text x="680.1" y="262.28" font-size="5.6" fill="#444" font-family='"Liberation Serif", serif'>25</text>
<rect x="579.9" y="231.9" width="1.9" height="2" fill="#000"/>
<rect x="677.2" y="231.9" width="1.8" height="2" fill="#000"/>
<text x="578" y="235.8" font-size="5.6" fill="#444" text-anchor="end" font-family='"Liberation Serif", serif'>30</text>
<text x="680.1" y="235.8" font-size="5.6" fill="#444" font-family='"Liberation Serif", serif'>30</text>
<rect x="594.85" y="399.5" width="1.9" height="1.8" fill="#000"/>
<text x="595.8" y="407.3" font-size="5.6" fill="#444" text-anchor="middle" font-family='"Liberation Serif", serif'>N0</text>
<rect x="617.5" y="399.5" width="1.9" height="1.8" fill="#000"/>
<text x="618.45" y="407.3" font-size="5.6" fill="#444" text-anchor="middle" font-family='"Liberation Serif", serif'>N1</text>
<rect x="640.15" y="399.5" width="1.9" height="1.8" fill="#000"/>
<text x="641.1" y="407.3" font-size="5.6" fill="#444" text-anchor="middle" font-family='"Liberation Serif", serif'>N2</text>
<rect x="662.8" y="399.5" width="1.9" height="1.8" fill="#000"/>
<text x="663.75" y="407.3" font-size="5.6" fill="#444" text-anchor="middle" font-family='"Liberation Serif", serif'>N3</text>
<text x="629.75" y="220.8" font-size="7.05" fill="#000" stroke="#000" stroke-width="0.12" text-anchor="middle" font-family='"Liberation Serif", serif'>Pathologic N stage</text>
<polyline points="595.8,344.1 618.45,321.5 641.1,318.9 663.75,312.6" fill="none" stroke="#286330" stroke-width="2.3" stroke-linejoin="round"/>
<polyline points="595.8,372.1 618.45,366.6 641.1,365.5 663.75,349.9" fill="none" stroke="#3050b8" stroke-width="2.3" stroke-linejoin="round"/>
<polyline points="595.8,389.8 618.45,388 641.1,388 663.75,384.9" fill="none" stroke="#e12a1e" stroke-width="2.3" stroke-linejoin="round"/>
<circle cx="595.8" cy="344.1" r="3.2" fill="#000"/>
<circle cx="618.45" cy="321.5" r="3.2" fill="#000"/>
<circle cx="641.1" cy="318.9" r="3.2" fill="#000"/>
<circle cx="663.75" cy="312.6" r="3.2" fill="#000"/>
<circle cx="595.8" cy="372.1" r="3.2" fill="#000"/>
<circle cx="618.45" cy="366.6" r="3.2" fill="#000"/>
<circle cx="641.1" cy="365.5" r="3.2" fill="#000"/>
<circle cx="663.75" cy="349.9" r="3.2" fill="#000"/>
<circle cx="595.8" cy="389.8" r="3.2" fill="#000"/>
<circle cx="618.45" cy="388" r="3.2" fill="#000"/>
<circle cx="641.1" cy="388" r="3.2" fill="#000"/>
<circle cx="663.75" cy="384.9" r="3.2" fill="#000"/>
<path d="M668.45 306.15L668.45 309.65M666.83 307.24L670.07 308.56M670.07 307.24L666.83 308.56" stroke="#505050" stroke-width="0.9" stroke-linecap="round" fill="none"/>
<path d="M668.45 343.45L668.45 346.95M666.83 344.54L670.07 345.86M670.07 344.54L666.83 345.86" stroke="#505050" stroke-width="0.9" stroke-linecap="round" fill="none"/>
<path d="M668.45 378.45L668.45 381.95M666.83 379.54L670.07 380.86M670.07 379.54L666.83 380.86" stroke="#505050" stroke-width="0.9" stroke-linecap="round" fill="none"/>
<rect x="35.6" y="36.1" width="8.4" height="2.3" fill="#286330"/>
<text x="47.8" y="39.5" font-size="5.35" fill="#111" stroke="#111" stroke-width="0.1" font-family='"Liberation Serif", serif'>Morbidity</text>
<rect x="35.6" y="46.1" width="8.4" height="2.3" fill="#3050b8"/>
<text x="47.8" y="49.5" font-size="5.35" fill="#111" stroke="#111" stroke-width="0.1" font-family='"Liberation Serif", serif'>FTR</text>
<rect x="35.6" y="56.1" width="8.4" height="2.3" fill="#e12a1e"/>
<text x="47.8" y="59.5" font-size="5.35" fill="#111" stroke="#111" stroke-width="0.1" font-family='"Liberation Serif", serif'>Mortality</text>
<text x="66.2" y="26.1" font-size="8.0" fill="#222" stroke="#222" stroke-width="0.3" text-anchor="middle" font-family='"Liberation Serif", serif'>*</text>
<g font-size="8.8" fill="#111" stroke="#111" stroke-width="0.15" font-family='"Liberation Serif", serif'>
<text x="72.3" y="24.9">:</text>
<text x="77.4" y="24.9" font-style="italic">p</text>
<text x="81.9" y="24.9">&lt;</text>
<text x="90.4" y="24.9">0.05</text>
</g>
<text transform="translate(4.9,42.3) rotate(-90)" font-size="6.5" fill="#111" stroke="#111" stroke-width="0.15" text-anchor="middle" font-family='"Liberation Serif", serif'>Morbidity,Mortality (%)</text>
<text transform="translate(138.9,17.6) rotate(-90) scale(0.82,1)" font-size="6.8" fill="#111" stroke="#111" stroke-width="0.15" text-anchor="middle" font-family='"Liberation Sans", sans-serif'>FTR</text>
<rect x="35.6" y="250.4" width="8.4" height="2.3" fill="#3050b8"/>
<text x="47.8" y="253.8" font-size="5.35" fill="#111" stroke="#111" stroke-width="0.1" font-family='"Liberation Serif", serif'>FTR</text>
<rect x="35.6" y="260.4" width="8.4" height="2.3" fill="#286330"/>
<text x="47.8" y="263.8" font-size="5.35" fill="#111" stroke="#111" stroke-width="0.1" font-family='"Liberation Serif", serif'>Morbidity</text>
<rect x="35.6" y="270.4" width="8.4" height="2.3" fill="#e12a1e"/>
<text x="47.8" y="273.8" font-size="5.35" fill="#111" stroke="#111" stroke-width="0.1" font-family='"Liberation Serif", serif'>Mortality</text>
<text x="66.2" y="241.1" font-size="8.0" fill="#222" stroke="#222" stroke-width="0.3" text-anchor="middle" font-family='"Liberation Serif", serif'>*</text>
<g font-size="8.8" fill="#111" stroke="#111" stroke-width="0.15" font-family='"Liberation Serif", serif'>
<text x="72.3" y="239.9">:</text>
<text x="77.4" y="239.9" font-style="italic">p</text>
<text x="81.9" y="239.9">&lt;</text>
<text x="90.4" y="239.9">0.05</text>
</g>
<text transform="translate(4.9,257.3) rotate(-90)" font-size="6.5" fill="#111" stroke="#111" stroke-width="0.15" text-anchor="middle" font-family='"Liberation Serif", serif'>Morbidity,Mortality (%)</text>
<text transform="translate(138.9,231.6) rotate(-90) scale(0.82,1)" font-size="6.8" fill="#111" stroke="#111" stroke-width="0.15" text-anchor="middle" font-family='"Liberation Sans", sans-serif'>FTR</text>
</svg></body></html>
